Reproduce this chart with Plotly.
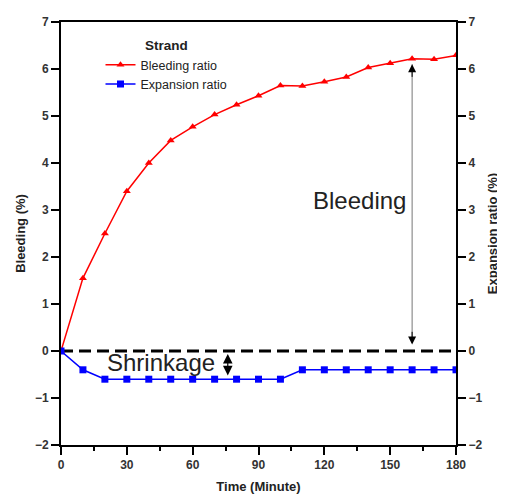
import plotly.graph_objects as go

time_min = [0, 10, 20, 30, 40, 50, 60, 70, 80, 90, 100, 110, 120, 130, 140, 150, 160, 170, 180]
bleeding = [0, 1.55, 2.5, 3.4, 4.0, 4.48, 4.77, 5.03, 5.24, 5.43, 5.65, 5.64, 5.73, 5.83, 6.03, 6.12, 6.22, 6.21, 6.29]
expansion = [0, -0.4, -0.6, -0.6, -0.6, -0.6, -0.6, -0.6, -0.6, -0.6, -0.6, -0.4, -0.4, -0.4, -0.4, -0.4, -0.4, -0.4, -0.4]
x_ticks = [0, 30, 60, 90, 120, 150, 180]
y_ticks = [-2, -1, 0, 1, 2, 3, 4, 5, 6, 7]

FONT = "Arial, Liberation Sans, sans-serif"

fig = go.Figure()
fig.add_trace(go.Scatter(
    x=time_min, y=bleeding, name="Bleeding ratio", mode="lines+markers",
    line=dict(color="#ff0000", width=1.5),
    marker=dict(symbol="triangle-up", size=7, color="#ff0000"),
))
fig.add_trace(go.Scatter(
    x=time_min, y=expansion, name="Expansion ratio", mode="lines+markers",
    line=dict(color="#0000ff", width=1.5),
    marker=dict(symbol="square", size=7, color="#0000ff"),
    yaxis="y2",
))

# zero reference dashed line
fig.add_shape(type="line", xref="x", yref="y", x0=0, x1=180, y0=0, y1=0,
              line=dict(color="black", width=3, dash="12px,6px"), layer="below")

# Bleeding double arrow: thin gray shaft with black heads
fig.add_annotation(x=160, y=6.1, ax=160, ay=0.14, xref="x", yref="y", axref="x", ayref="y",
                   showarrow=True, arrowhead=0, arrowwidth=1, arrowcolor="#777777", text="")
fig.add_annotation(x=160, y=6.1, ax=160, ay=5.8, xref="x", yref="y", axref="x", ayref="y",
                   showarrow=True, arrowhead=2, arrowsize=1.6, arrowwidth=1,
                   arrowcolor="black", text="")
fig.add_annotation(x=160, y=0.14, ax=160, ay=0.44, xref="x", yref="y", axref="x", ayref="y",
                   showarrow=True, arrowhead=2, arrowsize=1.6, arrowwidth=1,
                   arrowcolor="black", text="")
fig.add_annotation(x=136, y=3.2, xref="x", yref="y", text="Bleeding", showarrow=False,
                   font=dict(family=FONT, size=24, color="#222222"))
# Shrinkage double arrow
fig.add_annotation(x=76, y=-0.52, ax=76, ay=-0.03, xref="x", yref="y", axref="x", ayref="y",
                   showarrow=True, arrowhead=2, arrowside="end+start", arrowsize=1.6,
                   arrowwidth=1.2, arrowcolor="black", text="")
fig.add_annotation(x=45.5, y=-0.25, xref="x", yref="y", text="Shrinkage", showarrow=False,
                   font=dict(family=FONT, size=24, color="#222222"))

axis_common = dict(
    showline=True, linecolor="black", linewidth=2, ticks="outside", ticklen=8,
    tickwidth=2, tickcolor="black", showgrid=False, zeroline=False,
    tickfont=dict(family=FONT, size=12, color="#333333", weight="bold"),
)
title_font = dict(family=FONT, size=13, weight="bold", color="#222222")

fig.update_layout(
    width=497, height=491,
    margin=dict(l=53, r=45, t=7, b=53),
    paper_bgcolor="white", plot_bgcolor="white",
    font=dict(family=FONT, size=12, color="#222222"),
    xaxis=dict(range=[0, 180], tickvals=x_ticks, mirror=True,
               minor=dict(ticks="outside", dtick=15, ticklen=4, tickwidth=1.5, tickcolor="black"),
               title=dict(text="Time (Minute)", standoff=10, font=title_font),
               **axis_common),
    yaxis=dict(range=[-2, 7], tickvals=y_ticks,
               title=dict(text="Bleeding (%)", standoff=6, font=title_font),
               **axis_common),
    yaxis2=dict(range=[-2, 7], tickvals=y_ticks, overlaying="y", side="right",
                title=dict(text="Expansion ratio (%)", standoff=6, font=title_font),
                **axis_common),
    showlegend=True,
    legend=dict(x=0.1, y=0.975, xanchor="left", yanchor="top",
                bgcolor="rgba(0,0,0,0)", tracegroupgap=0,
                font=dict(family=FONT, size=12.5, color="#222222"),
                title=dict(text="Strand", side="top center",
                           font=dict(family=FONT, size=13.5, weight="bold", color="#222222"))),
)

fig.write_html("out.html", config={"displayModeBar": False})
